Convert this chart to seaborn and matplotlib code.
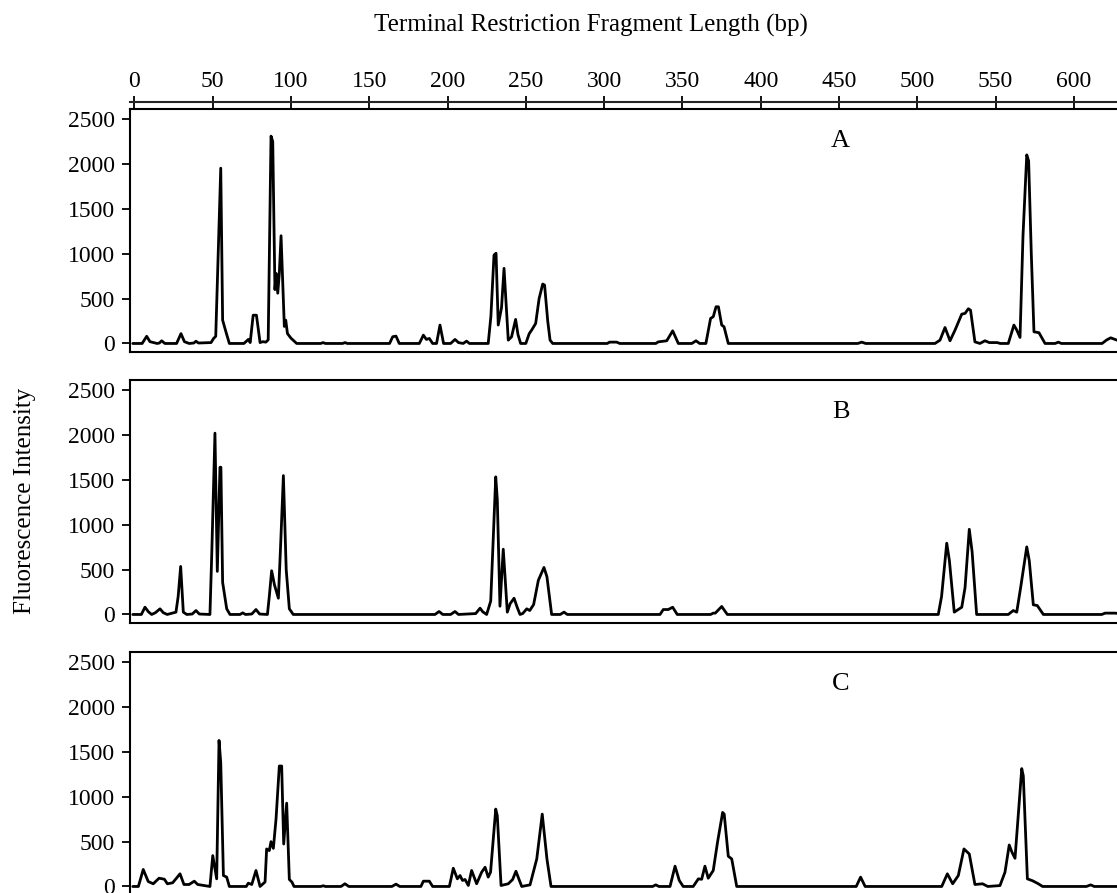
import numpy as np
import pandas as pd
import seaborn as sns
import matplotlib.pyplot as plt

# T-RFLP electropherograms (bp, fluorescence units)
a_bp = [-1, 5, 7.9, 10, 14.6, 16, 17.5, 19.5, 27, 29.8, 32, 35, 38, 39.4, 41, 49, 50.6, 52, 55.2, 56.4, 58.5, 60.7,
        70, 72.8, 74, 75.9, 78, 80.3, 82, 84, 85.5, 87.3, 88.4, 89.8, 90.6, 91.6, 92.6, 93.7, 95.8, 96.7, 97.8, 100, 103.7,
        119, 120.6, 122, 133, 134.6, 136, 163, 165, 167.1, 169.2, 182, 184.6, 186.5, 188.4, 190.5, 193, 195.2, 197.5,
        202, 204.8, 207, 210, 212.2, 214, 226, 227.7, 229.7, 231, 232.4, 234.5, 236.1, 238.8, 240.9, 243.5, 245, 246.7,
        250, 252.2, 253.7, 256.3, 258.5, 260.8, 262, 264, 265.5, 267.2, 302, 303.5, 308, 310, 333, 334.6, 340, 343.8,
        347.4, 356, 358.7, 361, 365, 368, 369.7, 371.5, 373, 375.1, 376.6, 379.3, 462, 464.5, 467, 511.3, 514.5, 517.7,
        520.9, 524.1, 528.4, 530.5, 532.6, 534, 536.8, 540, 543.2, 546, 551, 553, 558.1, 561.7, 563.5, 565.6, 567.5,
        569.9, 571.1, 572.8, 574.5, 577.7, 581.6, 588, 590.1, 592, 618, 621, 623.5, 627.5, 632]
a_fl = [0, 0, 80, 20, 0, 5, 30, 0, 0, 110, 20, 0, 5, 25, 5, 10, 55, 80, 1953, 260, 130, 0,
        0, 45, 10, 315, 315, 10, 20, 15, 40, 2310, 2250, 600, 780, 560, 780, 1200, 190, 260, 110, 60, 0,
        0, 10, 0, 0, 10, 0, 0, 75, 82, 0, 0, 93, 45, 56, 0, 0, 205, 0,
        0, 45, 10, 0, 26, 0, 0, 300, 985, 1005, 205, 400, 837, 37, 74, 268, 100, 0,
        0, 110, 148, 223, 500, 662, 650, 250, 37, 0, 0, 15, 15, 0, 0, 18, 30, 141,
        0, 0, 30, 0, 0, 279, 298, 409, 409, 205, 186, 0, 0, 15, 0, 0, 37, 178,
        30, 149, 327, 335, 387, 370, 18, 0, 30, 10, 10, 0, 0, 205, 150, 67, 1200,
        2101, 2034, 1000, 130, 120, 0, 0, 15, 0, 0, 40, 63, 37, 30]

b_bp = [-1, 4.5, 6.8, 9, 11.1, 13.5, 16.4, 18.5, 21, 26.6, 28, 29.6, 31.3, 33.5, 37, 39.4, 41.5, 48.3, 49.5, 51.5,
        53, 54.7, 55.3, 56.4, 59, 61.1, 67.5, 69.2, 71, 75, 77.7, 80, 85, 86.2, 87.7, 89.5, 92, 93.5, 95.2, 97, 99,
        101.5, 192, 194.6, 197, 202, 204.8, 207, 218, 220.8, 222.5, 225, 227.6, 230.8, 231.8, 233.5, 235.6, 238.2,
        240, 242.5, 244.5, 246.3, 248, 250.6, 252.5, 255, 258, 261.6, 263.5, 266.5, 272, 274.4, 276.5, 335.7, 337.8,
        341, 343.8, 346.7, 368, 369.7, 371, 375.1, 378.7, 513.4, 515.5, 518.8, 520.5, 523.6, 528.4, 530.5, 533.2,
        535, 537.9, 558.1, 561.3, 563.5, 566, 569.9, 571.5, 574.1, 576.6, 580.5, 617.8, 619.9, 626.2, 632]
b_fl = [0, 0, 81, 30, 0, 20, 63, 20, 0, 26, 200, 535, 26, 0, 5, 44, 5, 0, 700, 2020,
        480, 1640, 1640, 358, 63, 0, 0, 18, 0, 5, 55, 5, 0, 200, 487, 330, 181, 800, 1547, 500, 63,
        0, 0, 33, 0, 0, 33, 0, 10, 70, 30, 0, 150, 1533, 1281, 92, 727, 26,
        120, 181, 80, 0, 10, 63, 44, 110, 380, 524, 420, 0, 0, 26, 0, 0, 55,
        55, 81, 0, 0, 15, 15, 89, 0, 0, 200, 794, 600, 26, 81, 300, 949,
        700, 0, 0, 44, 26, 300, 753, 600, 107, 100, 0, 0, 15, 15, 5]

c_bp = [-1, 2.6, 5.7, 8.9, 12.1, 15.8, 19.2, 21.1, 24.5, 29.2, 31.7, 35, 38.3, 40.5, 48.3, 50.1, 52.6, 54.1, 55.2,
        56.9, 59, 60.7, 71.5, 72.8, 75, 77.7, 80.3, 83.5, 84.5, 86.2, 87.3, 88.8, 90.5, 92.6, 94.1, 95.4, 97.3, 99,
        100.7, 102, 119, 120.7, 122, 132, 134.5, 137, 164.5, 167.1, 169.5, 183, 184.6, 188.4, 190.5, 201.2, 203.7,
        206.3, 208, 209.6, 211.2, 213.3, 215.4, 218.6, 221.8, 224, 226, 227.5, 230.8, 231.8, 234.2, 238.8, 241.6,
        243.7, 247.4, 252.7, 257, 260.5, 263.5, 266.1, 331, 333, 335, 342.1, 345.3, 348, 350.5, 356.9, 360.2, 362.3,
        364.4, 366.5, 369.7, 372.5, 375.7, 376.7, 379.3, 381.5, 384.7, 461, 463.8, 466.7, 515.6, 519.2, 522.6, 526.2,
        529.8, 533.2, 536.8, 541.7, 545, 552.8, 556, 558.7, 560.5, 562.4, 564.5, 566.7, 567.7, 570.3, 573.7, 577.3,
        580, 608, 610.7, 613, 632]
c_fl = [0, 0, 189, 55, 30, 92, 81, 30, 41, 141, 22, 22, 59, 22, 0, 344, 85, 1627, 1379,
        122, 104, 0, 0, 37, 22, 178, 0, 50, 418, 400, 499, 425, 751, 1342, 1342, 473, 928, 78,
        48, 0, 0, 8, 0, 0, 30, 0, 0, 26, 0, 0, 59, 59, 0, 0, 203,
        85, 122, 67, 78, 11, 178, 30, 159, 214, 104, 160, 862, 788, 11, 30, 78,
        170, 0, 18, 307, 806, 307, 0, 0, 18, 0, 0, 226, 67, 0, 0, 85, 80,
        226, 92, 178, 500, 825, 806, 337, 307, 0, 0, 104, 0, 0, 141, 30, 122,
        418, 362, 22, 30, 0, 10, 159, 462, 380, 314, 800, 1313, 1231, 85, 63, 30,
        0, 0, 18, 0, 0]

panel_names = ['A', 'B', 'C']
y_ticks = [0, 500, 1000, 1500, 2000, 2500]
x_ticks = list(range(0, 601, 50))

sns.set_style('ticks')
plt.rcParams['font.family'] = ['Liberation Serif', 'DejaVu Serif']
plt.rcParams['text.color'] = 'black'
plt.rcParams['xtick.color'] = 'black'
plt.rcParams['ytick.color'] = 'black'

W, H = 1117, 893
fig = plt.figure(figsize=(W / 100, H / 100), dpi=100)

tops = [109, 380, 652]
panel_h = 243
left, right = 130, 1124
axes = []
for top in tops:
    ax = fig.add_axes([left / W, 1 - (top + panel_h) / H, (right - left) / W, panel_h / H])
    axes.append(ax)

for ax, name, xs, ys in zip(axes, panel_names, [a_bp, b_bp, c_bp], [a_fl, b_fl, c_fl]):
    df = pd.DataFrame({'bp': xs, 'fl': ys})
    sns.lineplot(data=df, x='bp', y='fl', ax=ax, color='black', linewidth=2.0,
                 estimator=None, sort=False)
    ax.set_xlim(-2.75, 632)
    ax.set_ylim(-95, 2612)
    ax.set_xticks([])
    ax.set_yticks(y_ticks)
    ax.set_xlabel('')
    ax.set_ylabel('')
    ax.tick_params(axis='y', direction='out', length=6, width=1.3, labelsize=17, pad=5)
    for s in ax.spines.values():
        s.set_linewidth(1.5)
        s.set_color('black')
    ax.text(451, 2260, name, ha='center', va='center', fontsize=19)

# shared length axis drawn just above the first panel
top_ax = axes[0].secondary_xaxis(1.029)
top_ax.set_xticks(x_ticks)
top_ax.tick_params(direction='inout', length=8, width=1.3, labelsize=17, pad=3)
top_ax.spines['top'].set_linewidth(1.5)

fig.text(591 / W, 1 - 25 / H, 'Terminal Restriction Fragment Length (bp)',
         ha='center', va='center', fontsize=18)
fig.text(25 / W, 1 - 501 / H, 'Fluorescence Intensity', rotation=90,
         ha='center', va='center', fontsize=18)

fig.savefig('out.png', dpi=100)
